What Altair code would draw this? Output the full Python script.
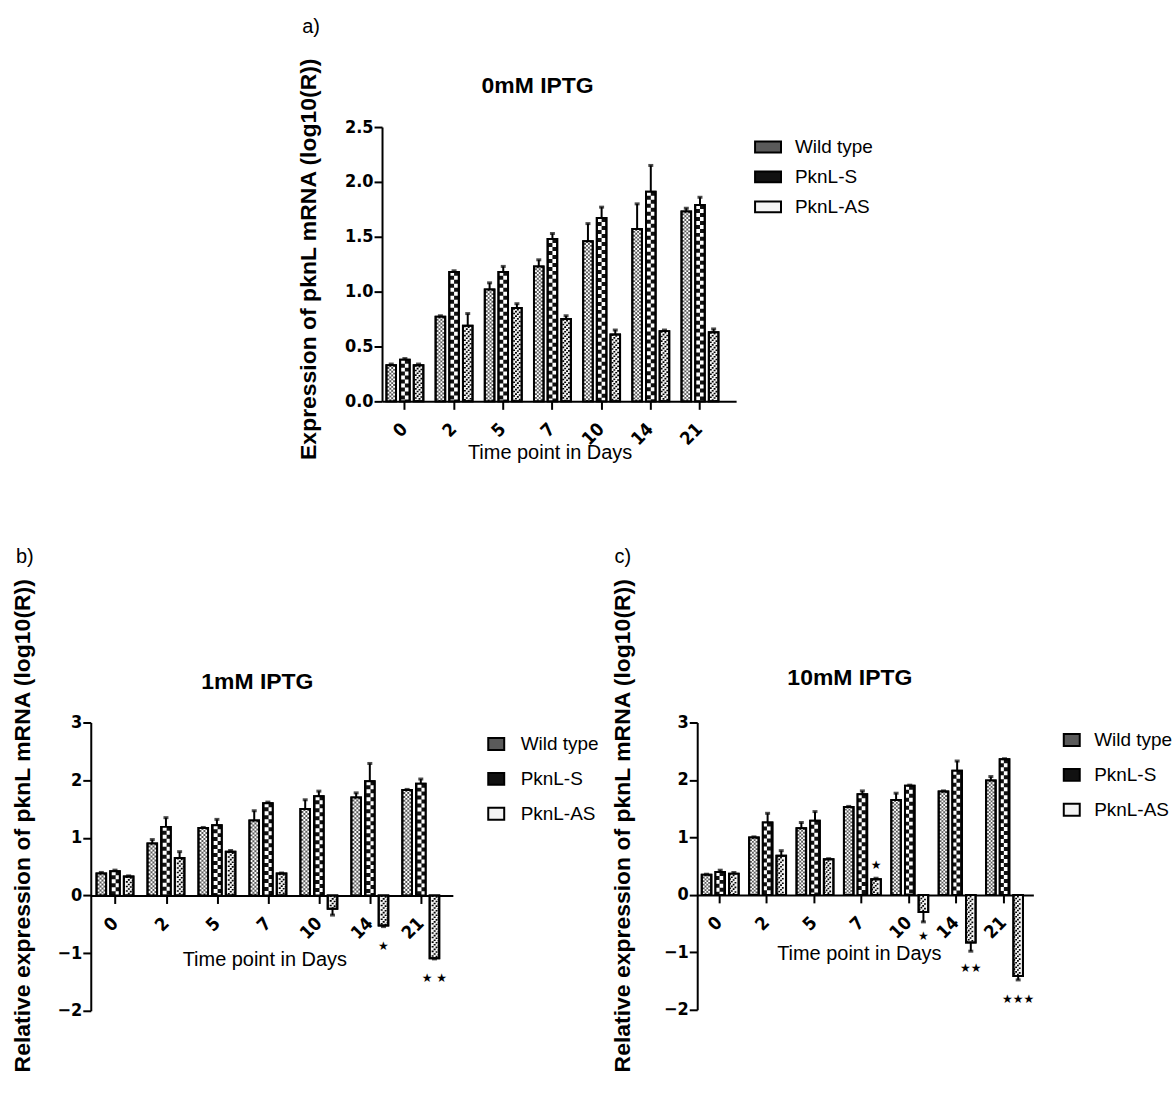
import altair as alt
import pandas as pd

days = ["0", "2", "5", "7", "10", "14", "21"]
series = ["Wild type", "PknL-S", "PknL-AS"]
fills = ["#5a5a5a", "#111111", "#f4f4f4"]

# ---- panel a: 0mM IPTG
a_wt = [0.33, 0.77, 1.02, 1.23, 1.46, 1.57, 1.73]
a_wt_err = [0.01, 0.01, 0.06, 0.06, 0.16, 0.23, 0.03]
a_s = [0.38, 1.18, 1.18, 1.48, 1.67, 1.91, 1.79]
a_s_err = [0.01, 0.01, 0.05, 0.05, 0.10, 0.24, 0.07]
a_as = [0.33, 0.69, 0.85, 0.75, 0.61, 0.64, 0.63]
a_as_err = [0.01, 0.11, 0.04, 0.03, 0.04, 0.01, 0.03]

# ---- panel b: 1mM IPTG
b_wt = [0.38, 0.90, 1.17, 1.30, 1.50, 1.70, 1.83]
b_wt_err = [0.02, 0.07, 0.01, 0.17, 0.16, 0.08, 0.01]
b_s = [0.42, 1.19, 1.22, 1.60, 1.72, 1.98, 1.94]
b_s_err = [0.02, 0.16, 0.10, 0.02, 0.09, 0.31, 0.08]
b_as = [0.33, 0.65, 0.76, 0.38, -0.23, -0.52, -1.09]
b_as_err = [0.01, 0.11, 0.02, 0.01, 0.11, 0.02, 0.01]
b_stars = ["", "", "", "", "", "\u2605", "\u2605 \u2605"]
b_star_y = [0, 0, 0, 0, 0, -0.88, -1.44]

# ---- panel c: 10mM IPTG
c_wt = [0.35, 1.00, 1.16, 1.53, 1.65, 1.80, 1.99]
c_wt_err = [0.01, 0.01, 0.10, 0.01, 0.12, 0.01, 0.07]
c_s = [0.40, 1.26, 1.29, 1.75, 1.90, 2.16, 2.36]
c_s_err = [0.03, 0.16, 0.16, 0.06, 0.01, 0.17, 0.01]
c_as = [0.37, 0.68, 0.62, 0.27, -0.30, -0.83, -1.41]
c_as_err = [0.02, 0.09, 0.01, 0.02, 0.17, 0.15, 0.07]
c_stars = ["", "", "", "\u2605", "\u2605", "\u2605\u2605", "\u2605\u2605\u2605"]
c_star_y = [0, 0, 0, 0.52, -0.72, -1.27, -1.82]

NARROW = "DejaVu Sans Condensed, Liberation Sans Narrow, sans-serif"
SANS = "Liberation Sans, Arial, sans-serif"

PAD_IN = 0.25      # padding between day groups
SUB_PAD = 0.3      # padding between bars of a group
STROKE = 2


def make_df(wt, wte, s, se, a_, ae):
    rows = []
    for i, d in enumerate(days):
        for name, v, e in ((series[0], wt[i], wte[i]), (series[1], s[i], se[i]), (series[2], a_[i], ae[i])):
            rows.append({"day": d, "series": name, "value": v,
                         "end": v + e if v >= 0 else v - e,
                         "top": max(v, 0), "bot": min(v, 0)})
    return pd.DataFrame(rows)


def star_df(stars, sy):
    return pd.DataFrame({"day": days, "series": [series[2]] * len(days),
                         "stars": stars, "sy": sy})[[s != "" for s in stars]]


def panel(df, sdf, title, label, ydom, yvals, yfmt, W, H, po, align,
          ytitle, ytx, yty, xtx, xty, tx, ty, lx, ly,
          legx, legy, sym_path, sym_size, row_pad, label_off):
    xoff = -(H - H * ydom[1] / (ydom[1] - ydom[0])) if ydom[0] < 0 else 0
    xaxis = alt.Axis(title="Time point in Days", labelAngle=-45, labelAlign="right",
                     labelBaseline="middle", labelPadding=17, offset=xoff,
                     titleX=xtx, titleY=xty, titleBaseline="middle", titleAlign="center",
                     titleFont=SANS, titleFontSize=20, titleFontWeight="normal",
                     labelFont=NARROW, labelFontSize=18, labelFontWeight="bold",
                     bandPosition=0.5, domainColor="black", domainWidth=2,
                     tickColor="black", tickWidth=2, tickSize=8, labelColor="black",
                     titleColor="black")
    yaxis = alt.Axis(values=yvals, format=yfmt, title=ytitle, titleAngle=-90,
                     titleX=ytx, titleY=yty, titleBaseline="middle", titleAlign="center",
                     titleFont=SANS, titleFontSize=23, titleFontWeight="bold",
                     labelFont=NARROW, labelFontSize=18, labelFontWeight="bold",
                     domainColor="black", domainWidth=2, tickColor="black",
                     tickWidth=2, tickSize=8, labelColor="black", titleColor="black",
                     labelPadding=1)
    xs = alt.Scale(paddingInner=PAD_IN, paddingOuter=po, align=align)

    # geometry of the bars (pixels) used for the fill textures
    step = W / (len(days) - PAD_IN + 2 * po)
    band = step * (1 - PAD_IN)
    sub = band / (len(series) - SUB_PAD)
    inner = sub * (1 - SUB_PAD) - STROKE

    def X():
        return alt.X("day:N", sort=days, scale=xs, axis=xaxis)

    def XO():
        return alt.XOffset("series:N", sort=series,
                           scale=alt.Scale(domain=series, paddingInner=SUB_PAD, paddingOuter=0))

    def Y(f):
        return alt.Y(f + ":Q", scale=alt.Scale(domain=ydom, nice=False), axis=yaxis)

    base = alt.Chart(df)
    bars = base.mark_bar(stroke="black", strokeWidth=STROKE).encode(
        x=X(), xOffset=XO(), y=Y("value"),
        color=alt.Color("series:N", sort=series,
                        scale=alt.Scale(domain=series, range=fills),
                        legend=alt.Legend(title=None, orient="none", legendX=legx, legendY=legy,
                                          direction="vertical", symbolType=sym_path,
                                          symbolSize=sym_size, symbolStrokeColor="black",
                                          symbolStrokeWidth=2, symbolOpacity=1,
                                          labelFont=SANS, labelFontSize=19, labelColor="black",
                                          labelOffset=label_off, rowPadding=row_pad, padding=0)))

    def texture(idx, ncol, color, dash, shift):
        cw = inner / ncol
        centre = (idx - 1) * sub
        sb = base.transform_filter(alt.datum.series == series[idx])
        out = []
        for k in range(ncol):
            dx = centre + (k - (ncol - 1) / 2) * cw
            out.append(sb.mark_rule(color=color, strokeWidth=cw, strokeDash=dash,
                                    strokeDashOffset=k * shift, xOffset=dx).encode(
                x=X(), y=Y("top"), y2="bot:Q"))
        return out

    tex = []
    tex += texture(0, 4, "white", [inner / 4, inner / 4], inner / 4)     # fine checks
    tex += texture(1, 2, "white", [4, 4], 4)                              # coarse checks
    tex += texture(2, 4, "black", [1.6, 3.0], inner / 4)                  # diagonal hatch

    outline = base.mark_bar(stroke="black", strokeWidth=STROKE, fillOpacity=0).encode(
        x=X(), xOffset=XO(), y=Y("value"))
    err = base.mark_rule(color="black", strokeWidth=2).encode(
        x=X(), xOffset=XO(), y=Y("value"), y2="end:Q")
    caps = base.mark_tick(color="black", thickness=3, size=5, orient="horizontal").encode(
        x=X(), xOffset=XO(), y=Y("end"))
    stars = alt.Chart(sdf).mark_text(font="DejaVu Sans", fontSize=12, color="black",
                                     baseline="middle").encode(
        x=X(), xOffset=XO(), y=Y("sy"), text="stars:N")
    ttl = alt.Chart(pd.DataFrame({"t": [title]})).mark_text(
        font=SANS, fontSize=23, fontWeight="bold", color="black", baseline="middle",
        align="center").encode(text="t:N", x=alt.value(tx), y=alt.value(ty))
    lab = alt.Chart(pd.DataFrame({"t": [label]})).mark_text(
        font=SANS, fontSize=20, color="black", baseline="alphabetic",
        align="left").encode(text="t:N", x=alt.value(lx), y=alt.value(ly))
    return alt.layer(bars, *tex, outline, err, caps, stars, ttl, lab).properties(
        width=W, height=H)


empty = pd.DataFrame({"day": [], "series": [], "stars": [], "sy": []})

pa = panel(make_df(a_wt, a_wt_err, a_s, a_s_err, a_as, a_as_err), empty,
           "0mM IPTG", "a)", [0, 2.5], [0, 0.5, 1.0, 1.5, 2.0, 2.5], ".1f",
           355, 275, 0.225, 0.2,
           "Expression of pknL mRNA (log10(R))", -74, 132, 168, 51,
           156, -41, -80, -94,
           373, 6, "M-1,-0.42L1,-0.42L1,0.42L-1,0.42Z", 676, 6, 13)

pb = panel(make_df(b_wt, b_wt_err, b_s, b_s_err, b_as, b_as_err), star_df(b_stars, b_star_y),
           "1mM IPTG", "b)", [-2, 3], [-2, -1, 0, 1, 2, 3], "d",
           363, 289, 0.177, 0.32,
           "Relative expression of pknL mRNA (log10(R))", -68, 103, 174, 64,
           167, -41, -75, -160,
           397, 12, "M-1,-0.75L1,-0.75L1,0.75L-1,0.75Z", 256, 14, 15)

pc = panel(make_df(c_wt, c_wt_err, c_s, c_s_err, c_as, c_as_err), star_df(c_stars, c_star_y),
           "10mM IPTG", "c)", [-2, 3], [-2, -1, 0, 1, 2, 3], "d",
           337, 288, 0.172, 0.28,
           "Relative expression of pknL mRNA (log10(R))", -75, 103, 162, 59,
           153, -45, -83, -160,
           366, 8, "M-1,-0.75L1,-0.75L1,0.75L-1,0.75Z", 256, 14, 13)

spacer = alt.Chart(pd.DataFrame({"v": [0]})).mark_point(opacity=0).encode(
    x=alt.value(0), y=alt.value(0)).properties(width=282, height=275)

top = alt.hconcat(spacer, pa, spacing=10, bounds="flush").resolve_scale(color="independent")
bottom = alt.hconcat(pb, pc, spacing=245, bounds="flush").resolve_scale(color="independent")

chart = alt.vconcat(top, bottom, spacing=597, bounds="flush").resolve_scale(
    color="independent").properties(
    padding={"left": 11, "top": 16, "right": 0, "bottom": 0},
    background="white"
).configure_view(stroke=None).configure_axis(grid=False)

chart.save("out.html", embed_options={"renderer": "svg", "actions": False})
